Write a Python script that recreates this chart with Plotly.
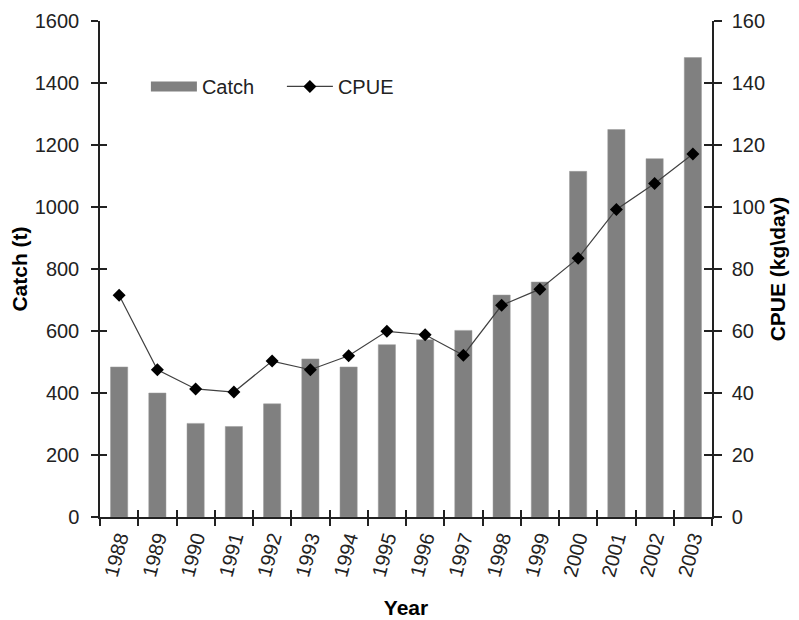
import plotly.graph_objects as go

# data
years = [1988, 1989, 1990, 1991, 1992, 1993, 1994, 1995,
         1996, 1997, 1998, 1999, 2000, 2001, 2002, 2003]
catch_t = [484, 400, 302, 292, 365, 510, 484, 556,
           572, 602, 716, 758, 1115, 1250, 1156, 1482]
cpue = [71.5, 47.5, 41.3, 40.3, 50.3, 47.5, 52.0, 59.9,
        58.8, 52.2, 68.3, 73.5, 83.5, 99.2, 107.6, 117.1]
year_labels = [str(y) for y in years]

FONT = "Liberation Sans, Arial, sans-serif"
AX = "#222222"
BAR = "#808080"

# category boundaries (ticks sit between the years)
bounds = [y - 0.5 for y in years] + [years[-1] + 0.5]
xrange_ = [bounds[0], bounds[-1]]

fig = go.Figure()

fig.add_trace(go.Bar(
    x=years, y=catch_t, name="Catch",
    width=0.45, showlegend=False, legendgroup="catch",
    marker=dict(color=BAR, line=dict(color="#9a9a9a", width=0.5)),
    xaxis="x", yaxis="y",
))
# legend swatch for the bars (wide grey block as in the original)
fig.add_trace(go.Scatter(
    x=[None], y=[None], name="Catch", mode="lines",
    legendgroup="catch", line=dict(color=BAR, width=13),
    xaxis="x", yaxis="y",
))

fig.add_trace(go.Scatter(
    x=years, y=cpue, name="CPUE",
    mode="lines+markers",
    line=dict(color="#404040", width=1.2),
    marker=dict(symbol="diamond", size=10, color="black"),
    xaxis="x", yaxis="y2",
))

# empty traces so the helper axes (inner half of the cross ticks) get drawn
for xa, ya in [("x2", "y"), ("x", "y3"), ("x", "y4")]:
    fig.add_trace(go.Scatter(x=[None], y=[None], xaxis=xa, yaxis=ya,
                             showlegend=False, hoverinfo="skip"))

tick_font = dict(family=FONT, size=20, color=AX)
title_font = dict(family=FONT, size=21, color="black")
inner = dict(ticks="inside", tickwidth=1.5, tickcolor=AX, showticklabels=False,
             showline=False, showgrid=False, zeroline=False, automargin=False)

# page body adds an 8px offset, margins are set to compensate
fig.update_layout(
    width=799, height=620,
    margin=dict(l=92, r=95, t=13, b=111),
    paper_bgcolor="white", plot_bgcolor="white",
    font=dict(family=FONT, size=20, color=AX),
    showlegend=True,
    legend=dict(
        orientation="h", x=0.075, y=0.868, xanchor="left", yanchor="middle",
        font=dict(family=FONT, size=20, color=AX),
        bgcolor="rgba(0,0,0,0)", itemwidth=46, entrywidth=75,
    ),
    xaxis=dict(
        range=xrange_, tickvals=years, ticktext=year_labels,
        ticks="", tickangle=-75, tickfont=tick_font, automargin=False,
        showline=True, linecolor=AX, linewidth=1.5,
        showgrid=False, zeroline=False,
        minor=dict(tickvals=bounds, ticks="outside", ticklen=7,
                   tickwidth=1.5, tickcolor=AX, showgrid=False),
        title=dict(text="<b>Year</b>", font=title_font, standoff=22),
    ),
    xaxis2=dict(overlaying="x", anchor="y", side="bottom",
                range=xrange_, tickvals=bounds, ticklen=7, **inner),
    yaxis=dict(
        range=[0, 1600], dtick=200, ticks="outside", ticklen=7,
        tickwidth=1.5, tickcolor=AX, tickfont=tick_font, automargin=False,
        ticklabelstandoff=8,
        showline=True, linecolor=AX, linewidth=1.5,
        showgrid=False, zeroline=False,
        title=dict(text="<b>Catch (t)</b>", font=title_font, standoff=1),
    ),
    yaxis3=dict(overlaying="y", anchor="x", side="left",
                range=[0, 1600], dtick=200, ticklen=7, **inner),
    yaxis2=dict(
        overlaying="y", anchor="x", side="right",
        range=[0, 160], dtick=20, ticks="outside", ticklen=8,
        tickwidth=1.5, tickcolor=AX, tickfont=tick_font, automargin=False,
        ticklabelstandoff=6,
        showline=True, linecolor=AX, linewidth=1.5,
        showgrid=False, zeroline=False,
        title=dict(text="<b>CPUE (kg\\day)</b>", font=title_font, standoff=6),
    ),
    yaxis4=dict(overlaying="y", anchor="x", side="right",
                range=[0, 160], dtick=20, ticklen=8, **inner),
)

fig.write_html("out.html")
